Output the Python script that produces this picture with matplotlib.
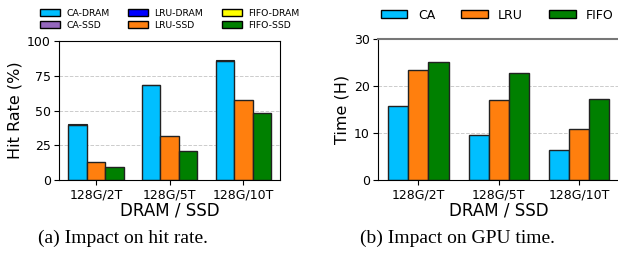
import numpy as np
import matplotlib
matplotlib.use('Agg')
import matplotlib.pyplot as plt
from matplotlib.patches import Patch

configs = ['128G/2T', '128G/5T', '128G/10T']

# hit rate (%), split in DRAM / SSD part
ca_dram = [39.4, 68.1, 85.4]
ca_ssd = [0.6, 0.6, 0.6]
lru_dram = [0.0, 0.0, 0.0]
lru_ssd = [12.7, 31.8, 57.9]
fifo_dram = [0.0, 0.0, 0.0]
fifo_ssd = [9.3, 21.1, 48.3]

# GPU time (hours)
ca_time = [15.7, 9.5, 6.4]
lru_time = [23.3, 17.0, 10.9]
fifo_time = [25.0, 22.7, 17.2]

c_ca = '#00bfff'
c_ca_ssd = '#9467bd'
c_lru_dram = '#0000ff'
c_lru = '#ff7f0e'
c_fifo_dram = '#ffff00'
c_fifo = '#008000'

fig = plt.figure(figsize=(6.18, 2.58), dpi=100)
ax1 = fig.add_axes([0.0955, 0.302, 0.358, 0.539])
ax2 = fig.add_axes([0.612, 0.302, 0.390, 0.547])

x = np.arange(len(configs))
w = 0.25
edge = dict(edgecolor='#222222', linewidth=1.0)

# (a) hit rate
ax1.bar(x - w, ca_dram, w, color=c_ca, **edge)
ax1.bar(x - w, ca_ssd, w, bottom=ca_dram, color='#222222', edgecolor='#222222', linewidth=0.8)
ax1.bar(x, lru_ssd, w, color=c_lru, **edge)
ax1.bar(x + w, fifo_ssd, w, color=c_fifo, **edge)
ax1.set_ylim(0, 100)
ax1.set_yticks([0, 25, 50, 75, 100])
ax1.set_xlim(-0.5, 2.5)
ax1.set_xticks(x)
ax1.set_xticklabels(configs)
ax1.tick_params(axis='both', labelsize=9, pad=2.5)
ax1.set_ylabel('Hit Rate (%)', fontsize=11.5, labelpad=3)
ax1.set_xlabel('DRAM / SSD', fontsize=12, labelpad=0)
ax1.yaxis.grid(True, linestyle='--', color='#cccccc', linewidth=0.7)
ax1.set_axisbelow(True)

handles = [Patch(facecolor=c_ca, edgecolor='black', label='CA-DRAM'),
           Patch(facecolor=c_ca_ssd, edgecolor='black', label='CA-SSD'),
           Patch(facecolor=c_lru_dram, edgecolor='black', label='LRU-DRAM'),
           Patch(facecolor=c_lru, edgecolor='black', label='LRU-SSD'),
           Patch(facecolor=c_fifo_dram, edgecolor='black', label='FIFO-DRAM'),
           Patch(facecolor=c_fifo, edgecolor='black', label='FIFO-SSD')]
ax1.legend(handles=handles, ncol=3, fontsize=6.7, frameon=False,
           loc='lower center', bbox_to_anchor=(0.5, 1.04), handlelength=2.15,
           handleheight=0.7, handletextpad=0.7, columnspacing=2.0,
           labelspacing=0.35, borderaxespad=0.2)

# (b) GPU time
ax2.bar(x - w, ca_time, w, color=c_ca, **edge)
ax2.bar(x, lru_time, w, color=c_lru, **edge)
ax2.bar(x + w, fifo_time, w, color=c_fifo, **edge)
ax2.set_ylim(0, 30)
ax2.set_yticks([0, 10, 20, 30])
ax2.set_xlim(-0.5, 2.5)
ax2.set_xticks(x)
ax2.set_xticklabels(configs)
ax2.tick_params(axis='both', labelsize=9, pad=2.5)
ax2.set_ylabel('Time (H)', fontsize=11.5, labelpad=3)
ax2.set_xlabel('DRAM / SSD', fontsize=12, labelpad=0)
ax2.yaxis.grid(True, linestyle='--', color='#cccccc', linewidth=0.7)
ax2.set_axisbelow(True)
ax2.spines['top'].set_color('#777777')
ax2.spines['top'].set_linewidth(1.5)

h2 = [Patch(facecolor=c_ca, edgecolor='black', label='CA'),
      Patch(facecolor=c_lru, edgecolor='black', label='LRU'),
      Patch(facecolor=c_fifo, edgecolor='black', label='FIFO')]
ax2.legend(handles=h2, ncol=3, fontsize=9, frameon=False,
           loc='lower left', bbox_to_anchor=(-0.02, 1.07), handlelength=2.1,
           handleheight=0.65, handletextpad=0.85, columnspacing=2.1,
           borderaxespad=0.2)

fig.text(123 / 618, 0.078, '(a) Impact on hit rate.', family='Liberation Serif',
         fontsize=14, ha='center', va='center')
fig.text(457 / 618, 0.078, '(b) Impact on GPU time.', family='Liberation Serif',
         fontsize=14, ha='center', va='center')

fig.savefig('out.png', dpi=100)
